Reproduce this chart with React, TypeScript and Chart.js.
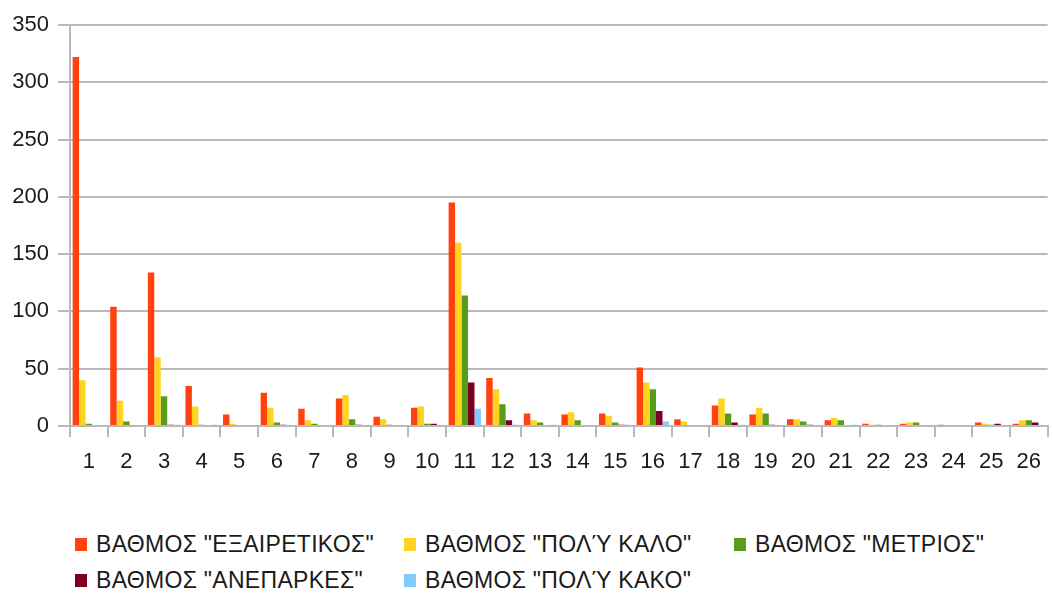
import React, { useEffect, useRef } from "react";
import { Chart, registerables } from "chart.js";

Chart.register(...registerables);

const categories = ["1","2","3","4","5","6","7","8","9","10","11","12","13","14","15","16","17","18","19","20","21","22","23","24","25","26"];

const seriesNames = [
  'ΒΑΘΜΟΣ "ΕΞΑΙΡΕΤΙΚΟΣ"',
  'ΒΑΘΜΟΣ "ΠΟΛΎ ΚΑΛΟ"',
  'ΒΑΘΜΟΣ "ΜΕΤΡΙΟΣ"',
  'ΒΑΘΜΟΣ "ΑΝΕΠΑΡΚΕΣ"',
  'ΒΑΘΜΟΣ "ΠΟΛΎ ΚΑΚΟ"',
];

const excellent = [322, 104, 134, 35, 10, 29, 15, 24, 8, 16, 195, 42, 11, 10, 11, 51, 6, 18, 10, 6, 5, 2, 2, 1, 3, 2];
const veryGood = [40, 22, 60, 17, 2, 16, 5, 27, 6, 17, 160, 32, 5, 12, 9, 38, 4, 24, 16, 6, 7, 1, 3, 0, 2, 5];
const average = [2, 4, 26, 1, 0, 3, 2, 6, 1, 2, 114, 19, 3, 5, 3, 32, 0, 11, 11, 4, 5, 1, 3, 0, 1, 5];
const insufficient = [0, 0, 1, 0, 0, 1, 0, 1, 0, 2, 38, 5, 0, 0, 1, 13, 0, 3, 1, 1, 0, 0, 0, 0, 2, 3];
const veryBad = [0, 0, 1, 1, 0, 0, 0, 0, 0, 0, 15, 1, 1, 0, 1, 4, 0, 1, 0, 0, 1, 0, 0, 0, 0, 0];

const yTicks = [0, 50, 100, 150, 200, 250, 300, 350];

const colors = ["#ff420e", "#ffd320", "#579d1c", "#7e0021", "#83caff"];
const seriesValues = [excellent, veryGood, average, insufficient, veryBad];

const FONT = '"Liberation Sans", Arial, sans-serif';

export default function App() {
  const ref = useRef<HTMLCanvasElement | null>(null);

  useEffect(() => {
    document.body.style.margin = "0";
    const canvas = ref.current;
    if (!canvas) return;
    const chart = new Chart(canvas, {
      type: "bar",
      data: {
        labels: categories,
        datasets: seriesValues.map((vals, i) => ({
          label: seriesNames[i],
          data: vals,
          backgroundColor: colors[i],
          borderWidth: 0,
          categoryPercentage: 0.86,
          barPercentage: 1,
        })),
      },
      options: {
        responsive: false,
        animation: false,
        layout: { padding: { left: 12, right: 0, top: 25, bottom: 0 } },
        plugins: {
          legend: { display: false },
          tooltip: { enabled: false },
        },
        scales: {
          x: {
            offset: true,
            afterFit: (axis: any) => {
              axis.height = 50;
            },
            grid: {
              offset: true,
              drawOnChartArea: false,
              drawTicks: true,
              tickLength: 11,
              color: "#b9b9b9",
              lineWidth: 2,
            },
            border: { color: "#b9b9b9", width: 2 },
            ticks: {
              color: "#1a1a1a",
              font: { family: FONT, size: 22 },
              padding: 12,
              maxRotation: 0,
              autoSkip: false,
            },
          },
          y: {
            min: 0,
            max: 350,
            afterBuildTicks: (axis: any) => {
              axis.ticks = yTicks.map((v) => ({ value: v }));
            },
            afterFit: (axis: any) => {
              axis.width = 58;
            },
            grid: {
              color: "#b9b9b9",
              lineWidth: 2,
              tickLength: 12,
            },
            border: { color: "#b9b9b9", width: 2 },
            ticks: {
              color: "#1a1a1a",
              font: { family: FONT, size: 22 },
              padding: 9,
            },
          },
        },
      },
    });
    return () => chart.destroy();
  }, []);

  const legendItem = (i: number, left: number, top: number) => (
    <div
      key={i}
      style={{
        position: "absolute",
        left,
        top,
        height: 26,
        display: "flex",
        alignItems: "center",
        fontFamily: FONT,
        fontSize: 23,
        letterSpacing: 0.3,
        color: "#1a1a1a",
        whiteSpace: "nowrap",
      }}
    >
      <span
        style={{
          display: "inline-block",
          width: 12,
          height: 13,
          background: colors[i],
          marginRight: 9,
        }}
      />
      <span>{seriesNames[i]}</span>
    </div>
  );

  return (
    <div style={{ position: "relative", width: 1053, height: 596, background: "#fff" }}>
      <canvas ref={ref} width={1053} height={476} style={{ display: "block" }} />
      {legendItem(0, 75, 531)}
      {legendItem(1, 404, 531)}
      {legendItem(2, 734, 531)}
      {legendItem(3, 75, 567)}
      {legendItem(4, 404, 567)}
    </div>
  );
}
